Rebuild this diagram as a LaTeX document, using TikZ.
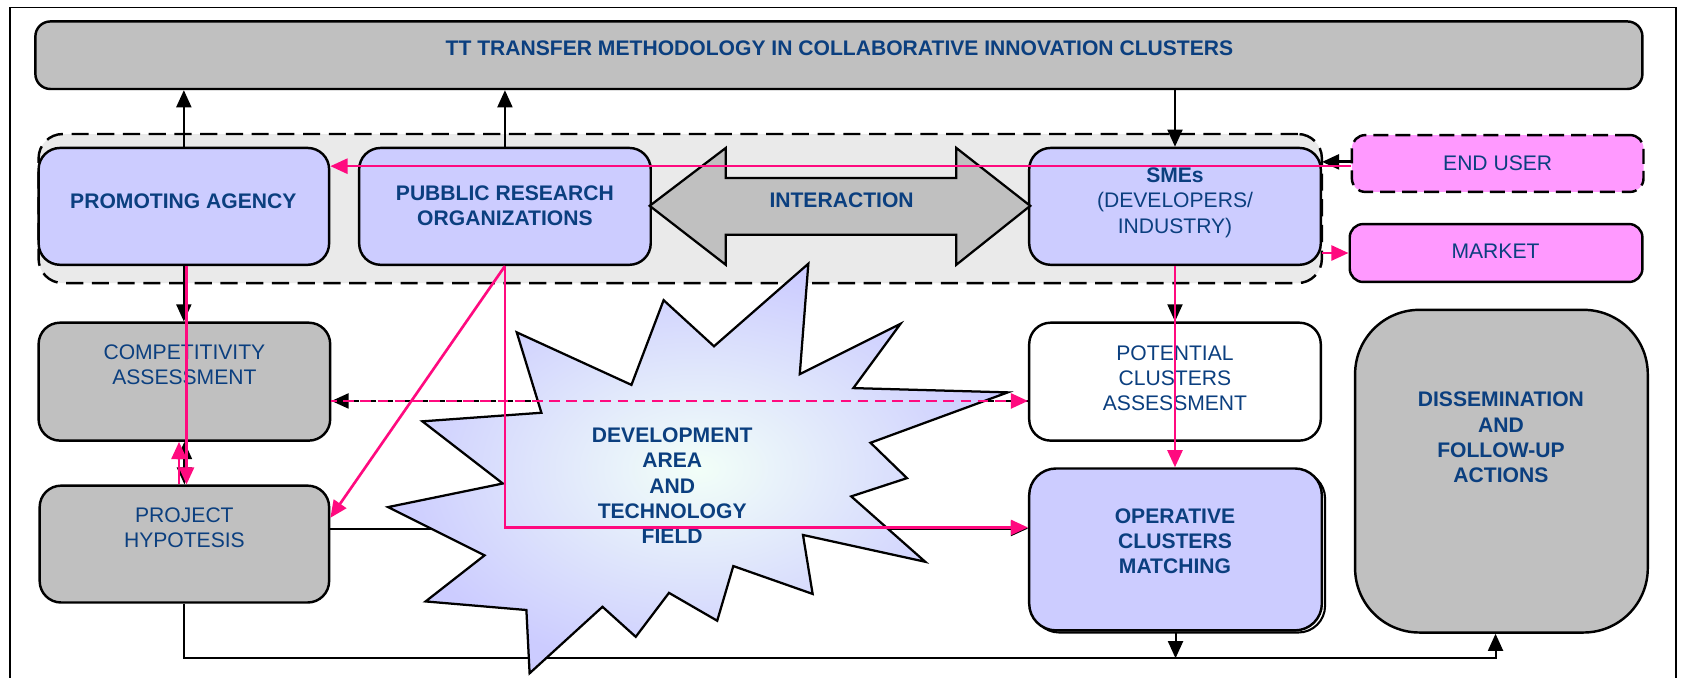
\documentclass[tikz,border=0pt]{standalone}
\usepackage{fontspec}
\setmainfont{Liberation Sans}
\usetikzlibrary{arrows.meta,calc}
\definecolor{tblue}{HTML}{0B3F7F}
\definecolor{lav}{HTML}{CCCCFF}
\definecolor{gbox}{HTML}{C0C0C0}
\definecolor{contc}{HTML}{EAEAEA}
\definecolor{pnk}{HTML}{FF0A7F}
\definecolor{mag}{HTML}{FF99FF}
\definecolor{starc}{HTML}{F2FFF8}
\tikzset{
 box/.style={draw=black, line width=1.3pt, rounded corners=0.4cm, inner sep=0pt},
 txt/.style={text=tblue, align=center, font=\fontsize{11.2}{13.4}\selectfont, inner sep=0pt},
 btxt/.style={text=tblue, align=center, font=\bfseries\fontsize{11.2}{13.4}\selectfont, inner sep=0pt},
 blk/.style={draw=black, line width=1.1pt},
 pk/.style={draw=pnk, line width=1.4pt},
 tip/.style={-{Triangle[length=0.32cm,width=0.28cm]}},
 tipboth/.style={{Triangle[length=0.32cm,width=0.28cm]}-{Triangle[length=0.32cm,width=0.28cm]}},
}
\newcommand\mybox[6]{\node[box,#2,minimum width={(#5-#3)*0.02cm},minimum height={(#6-#4)*0.02cm}] (#1) at ({(#3+#5)/2},{(#4+#6)/2}) {};}
\begin{document}
\begin{tikzpicture}[x=0.02cm,y=-0.02cm]
\useasboundingbox (0,0) rectangle (1568,632);
\fill[white] (0,0) rectangle (1568,632);
\draw[line width=1pt] (9,640) -- (9,7) -- (1563,7) -- (1563,640);
% title and container
\mybox{title}{fill=gbox,rounded corners=0.28cm}{33}{20}{1532}{83}
\mybox{cont}{fill=contc,dash pattern=on 0.32cm off 0.16cm,rounded corners=0.45cm}{36}{125}{1233}{264}
% boxes
\mybox{pa}{fill=lav}{36}{138}{307}{247}
\mybox{pro}{fill=lav}{335}{138}{607}{247}
\mybox{sme}{fill=lav}{960}{138}{1232}{247}
\mybox{enduser}{fill=mag,dash pattern=on 0.28cm off 0.13cm,rounded corners=0.25cm}{1261}{126}{1533}{179}
\mybox{market}{fill=mag,rounded corners=0.25cm}{1259}{209}{1532}{263}
\mybox{ca}{fill=gbox}{36}{301}{308}{411}
\mybox{ph}{fill=gbox}{37}{453}{307}{562}
\mybox{pca}{fill=white}{960}{301}{1232}{411}
\draw[line width=1.1pt,rounded corners=0.5cm] (963,440) rectangle (1236,590);
\mybox{ocm}{fill=lav,rounded corners=0.5cm}{960}{437}{1233}{588}
\mybox{diss}{fill=gbox,rounded corners=1.2cm}{1264}{289}{1537}{590}
% interaction arrow
\draw[line width=1.2pt,fill=gbox] (606,192) -- (677,138) -- (677,166) -- (892,166) -- (892,138) -- (961,192) -- (892,247) -- (892,219) -- (677,219) -- (677,247) -- cycle;
\node[btxt] (inter-t) at (785,187) {INTERACTION};
% texts
\node[btxt] (title-t) at (783,45) {TT TRANSFER METHODOLOGY IN COLLABORATIVE INNOVATION CLUSTERS};
\node[btxt] (pa-t) at (171,188) {PROMOTING AGENCY};
\node[btxt] (pro-t) at (471,192) {PUBBLIC RESEARCH\\ORGANIZATIONS};
\node[txt] (sme-t) at (1096,189) {\textbf{SMEs}\\(DEVELOPERS/\\INDUSTRY)};
\node[txt] (eu-t) at (1397,152) {END USER};
\node[txt] (mk-t) at (1395,234) {MARKET};
\node[txt] (ca-t) at (172,340) {COMPETITIVITY\\ASSESSMENT};
\node[txt] (ph-t) at (172,492) {PROJECT\\HYPOTESIS};
\node[txt] (pca-t) at (1096,353) {POTENTIAL\\CLUSTERS\\ASSESSMENT};
\node[btxt] (ocm-t) at (1096,505) {OPERATIVE\\CLUSTERS\\MATCHING};
\node[btxt] (diss-t) at (1400,408) {DISSEMINATION\\AND\\FOLLOW-UP\\ACTIONS};
% black connectors
\draw[blk,tip] (pa.north) -- (pa.north |- title.south);
\draw[blk,tip] (pro.north) -- (pro.north |- title.south);
\draw[blk,tip] (sme.north |- title.south) -- (sme.north);
\coordinate (eu0) at ([yshift=0.03cm]enduser.west);
\draw[blk,line width=1.5pt,tip] (eu0) -- (eu0 -| sme.east);
\draw[blk,tip] (pa.south) -- (pa.south |- ca.north);
\draw[blk,tipboth] (ca.south) -- (ca.south |- ph.north);
\coordinate (cad) at ([yshift=-0.36cm]ca.east);
\draw[blk,dash pattern=on 0.2cm off 0.12cm,tip] (cad -| pca.west) -- (cad);
\coordinate (phe) at ([yshift=0.29cm]ph.east);
\draw[blk,tip] (phe) -- (phe -| ocm.west);
\draw[blk,tip] (sme.south) -- (sme.south |- pca.north);
\coordinate (bus) at (0,614);
\coordinate (dissin) at ([xshift=-0.11cm]diss.south);
\draw[blk,tip] (ph.south) -- (ph.south |- bus) -| (dissin);
\draw[blk,tip] (ocm.south) -- (ocm.south |- bus);
% star
\path[draw=black,line width=1.2pt,inner color=starc,outer color=lav]
 (482,310) -- (589,359) -- (619,280) -- (666,323) -- (754,246) -- (746,349)
 -- (840,302) -- (796,362) -- (940,366) -- (812,413) -- (846,446) -- (794,463)
 -- (863,524) -- (749,499) -- (758,554) -- (684,528) -- (669,579) -- (624,553)
 -- (593,594) -- (562,566) -- (494,628) -- (491,569) -- (397,561) -- (452,518)
 -- (362,473) -- (469,451) -- (394,393) -- (505,385) -- cycle;
\node[btxt] (dev-t) at (627,453) {DEVELOPMENT\\AREA\\AND\\TECHNOLOGY\\FIELD};
% pink connectors
\coordinate (eu1) at ([yshift=-0.05cm]enduser.west);
\draw[pk,tip] (eu1) -- (eu1 -| pa.east);
\draw[pk,tip] (sme.east |- market.west) -- (market.west);
\coordinate (pas) at ([xshift=0.05cm]pa.south);
\draw[pk,tip] (pas) -- (pas |- ph.north);
\coordinate (phn) at ([xshift=-0.1cm]ph.north);
\draw[pk,tip] (phn) -- (phn |- ca.south);
\draw[pk,tip] (pro.south) -- ([yshift=0.49cm]ph.east);
\coordinate (ocw) at ([yshift=0.41cm]ocm.west);
\draw[pk,tip] (pro.south) |- (ocw);
\draw[pk,tip] (sme.south) -- (sme.south |- ocm.north);
\draw[pk,dash pattern=on 0.2cm off 0.12cm,dash phase=0.1cm,tip] (cad) -- (cad -| pca.west);
\end{tikzpicture}
\end{document}
